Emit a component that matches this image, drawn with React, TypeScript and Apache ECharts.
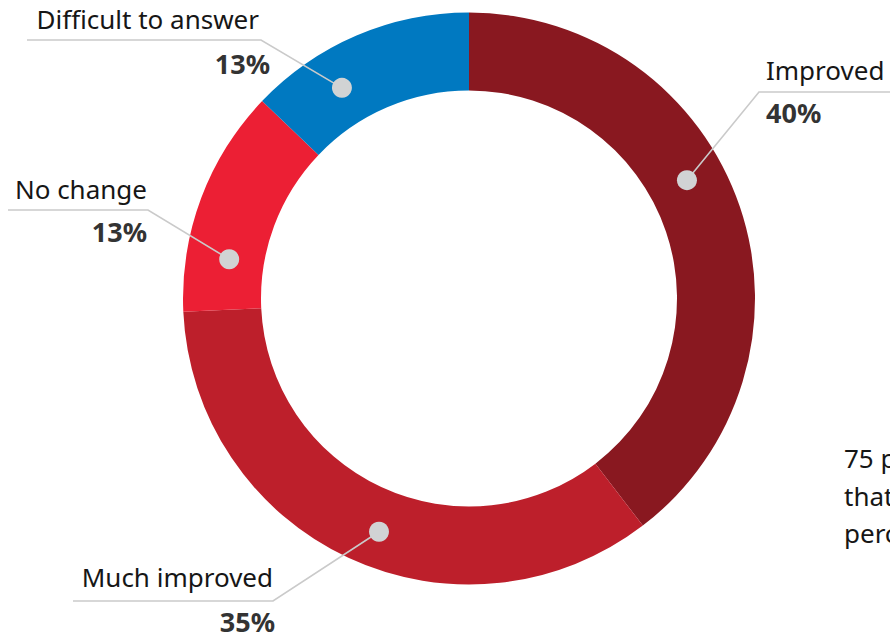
import React, { useEffect, useRef } from "react";
import * as echarts from "echarts";

const categories = ["Improved", "Much improved", "No change", "Difficult to answer"];
const values = [40, 35, 13, 13];
const percentLabels = ["40%", "35%", "13%", "13%"];
const sideNote = ["75 per cent of respondents", "that their situation had", "perceptibly improved"];

const colors = ["#891820", "#BD1F2B", "#EC1F34", "#0079C1"];

const CX = 469;
const CY = 298.5;
const R_IN = 208;
const R_OUT = 286;
const FONT = "'Noto Sans', 'Open Sans', sans-serif";

// label annotation layout (not data)
const anchorAngles = [61.5, 201.1, 279.3, 328.9];
const anchorRadii = [248, 250, 243, 246];
const elbows: [number, number][] = [[759, 92], [273, 601], [148, 210], [261, 40]];
const lineEnds = [890, 73, 8, 27];
const nameLayout = [
  { x: 766, y: 70, align: "left" },
  { x: 273, y: 577, align: "right" },
  { x: 147, y: 189, align: "right" },
  { x: 259, y: 18.5, align: "right" },
];
const pctLayout = [
  { x: 766, y: 112, align: "left" },
  { x: 275, y: 621, align: "right" },
  { x: 147, y: 231, align: "right" },
  { x: 270, y: 63, align: "right" },
];

export default function App() {
  const ref = useRef<HTMLDivElement>(null);
  useEffect(() => {
    if (!ref.current) return;
    const chart = echarts.init(ref.current, null, { renderer: "svg" });
    const graphics: any[] = [];
    categories.forEach((name, i) => {
      const a = (anchorAngles[i] * Math.PI) / 180;
      const dx = CX + anchorRadii[i] * Math.sin(a);
      const dy = CY - anchorRadii[i] * Math.cos(a);
      const [ex, ey] = elbows[i];
      graphics.push({
        type: "polyline",
        z: 100,
        shape: { points: [[dx, dy], [ex, ey], [lineEnds[i], ey]] },
        style: { stroke: "#CACACA", lineWidth: 1.6, fill: null },
      });
      graphics.push({
        type: "circle",
        z: 101,
        shape: { cx: dx, cy: dy, r: 10 },
        style: { fill: "#D1D3D4" },
      });
      graphics.push({
        type: "text",
        z: 102,
        x: nameLayout[i].x,
        y: nameLayout[i].y,
        style: {
          text: name,
          font: `400 26px ${FONT}`,
          fill: "#161616",
          align: nameLayout[i].align,
          verticalAlign: "middle",
        },
      });
      graphics.push({
        type: "text",
        z: 102,
        x: pctLayout[i].x,
        y: pctLayout[i].y,
        style: {
          text: percentLabels[i],
          font: `700 27px ${FONT}`,
          fill: "#333333",
          align: pctLayout[i].align,
          verticalAlign: "middle",
        },
      });
    });
    sideNote.forEach((t, i) => {
      graphics.push({
        type: "text",
        z: 102,
        x: 844,
        y: 458 + i * 37.5,
        style: {
          text: t,
          font: `400 26px ${FONT}`,
          fill: "#161616",
          align: "left",
          verticalAlign: "middle",
        },
      });
    });

    chart.setOption({
      animation: false,
      backgroundColor: "#ffffff",
      series: [
        {
          type: "pie",
          center: [CX, CY],
          radius: [R_IN, R_OUT],
          startAngle: 90,
          clockwise: true,
          label: { show: false },
          labelLine: { show: false },
          emphasis: { disabled: true },
          itemStyle: { borderWidth: 0 },
          data: categories.map((name, i) => ({
            name,
            value: values[i],
            itemStyle: { color: colors[i] },
          })),
        },
      ],
      graphic: graphics,
    });
    return () => chart.dispose();
  }, []);
  return (
    <div
      ref={ref}
      style={{ position: "fixed", left: 0, top: 0, width: 890, height: 637 }}
    />
  );
}
